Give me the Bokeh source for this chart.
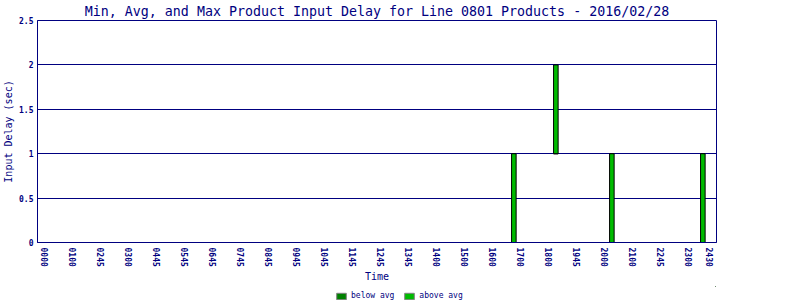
from bokeh.plotting import figure
from bokeh.layouts import column
from bokeh.models import FixedTicker, Range1d, Legend, LegendItem, ColumnDataSource
from bokeh.embed import file_html
from bokeh.resources import INLINE

# ---- data ----
tick_idx = [0, 4, 8, 12, 16, 20, 24, 28, 32, 36, 40, 44, 48, 52, 56, 60,
            64, 68, 72, 76, 80, 84, 88, 92, 95]
tick_labels = ["0000", "0100", "0245", "0300", "0445", "0545", "0645", "0745",
               "0845", "0945", "1045", "1145", "1245", "1345", "1400", "1500",
               "1600", "1700", "1800", "1945", "2000", "2100", "2245", "2300", "2430"]
bar_idx = [67, 73, 81, 94]
min_delay = [0, 1, 0, 0]
avg_delay = [0, 1, 0, 0]
max_delay = [1, 2, 1, 1]
y_ticks = [0, 0.5, 1, 1.5, 2, 2.5]
y_tick_labels = ["0", "0.5", "1", "1.5", "2", "2.5"]
series_names = ["below avg", "above avg"]

NAVY = "#000080"
MONO = "DejaVu Sans Mono"
BELOW = "#008000"
ABOVE = "#00bb00"

src = ColumnDataSource(dict(x=bar_idx, mn=min_delay, av=avg_delay, mx=max_delay))

p = figure(frame_width=679, frame_height=222, output_backend="svg", toolbar_location=None,
           x_range=Range1d(-1.05, 95.95), y_range=Range1d(0, 2.5),
           min_border_left=36, min_border_right=85, min_border_top=20, min_border_bottom=44)

p.title.text = "Min, Avg, and Max Product Input Delay for Line 0801 Products - 2016/02/28"
p.title.align = "center"
p.title.vertical_align = "top"
p.title.text_font = MONO
p.title.text_font_size = "13.3px"
p.title.text_font_style = "normal"
p.title.text_color = NAVY
p.title.standoff = 0

p.vbar(x="x", bottom="mn", top="av", width=0.65, source=src,
       fill_color=BELOW, line_color="black", line_width=1)
p.vbar(x="x", bottom="av", top="mx", width=0.65, source=src,
       fill_color=ABOVE, line_color="black", line_width=1)

p.outline_line_color = NAVY
p.outline_line_width = 1
p.background_fill_color = "white"
p.border_fill_color = "white"

p.xgrid.visible = False
p.ygrid.grid_line_color = NAVY
p.ygrid.grid_line_width = 1
p.ygrid.ticker = FixedTicker(ticks=y_ticks)

p.yaxis.ticker = FixedTicker(ticks=y_ticks)
p.yaxis.major_label_overrides = {t: l for t, l in zip(y_ticks, y_tick_labels)}
p.xaxis.ticker = FixedTicker(ticks=tick_idx)
p.xaxis.major_label_overrides = {t: l for t, l in zip(tick_idx, tick_labels)}
p.xaxis.major_label_orientation = "vertical"

for ax in (p.xaxis[0], p.yaxis[0]):
    ax.axis_line_color = NAVY
    ax.major_tick_line_color = None
    ax.minor_tick_line_color = None
    ax.major_tick_out = 0
    ax.major_tick_in = 0
    ax.major_label_text_font = MONO
    ax.major_label_text_font_size = "8px"
    ax.major_label_text_font_style = "bold"
    ax.major_label_text_color = NAVY
    ax.axis_label_text_font = MONO
    ax.axis_label_text_font_size = "10px"
    ax.axis_label_text_font_style = "normal"
    ax.axis_label_text_color = NAVY

p.xaxis.axis_label = "Time"
p.yaxis.axis_label = "Input Delay (sec)"
p.xaxis.major_label_standoff = 5
p.yaxis.major_label_standoff = 4
p.xaxis.axis_label_standoff = 1
p.yaxis.axis_label_standoff = 2

# ---- legend strip below the chart ----
# its swatch renderers reuse the series data; the strip's own ranges keep them out of view
lg = figure(width=800, height=14, output_backend="svg", toolbar_location=None,
            x_range=Range1d(-3, -2), y_range=Range1d(-3, -2),
            x_axis_type=None, y_axis_type=None,
            min_border_left=0, min_border_right=0, min_border_top=0, min_border_bottom=0)
lg.outline_line_color = None
lg.grid.visible = False
lg.background_fill_color = "white"
lg.border_fill_color = "white"
sw_below = lg.vbar(x="x", bottom="mn", top="av", width=0.65, source=src,
                   fill_color=BELOW, line_color="#808080")
sw_above = lg.vbar(x="x", bottom="av", top="mx", width=0.65, source=src,
                   fill_color=ABOVE, line_color="#808080")
legend = Legend(items=[LegendItem(label=series_names[0], renderers=[sw_below]),
                       LegendItem(label=series_names[1], renderers=[sw_above])],
                orientation="horizontal", location=(298, 0),
                label_text_font=MONO, label_text_font_size="8px",
                label_text_color=NAVY, glyph_width=12, glyph_height=8,
                label_standoff=4, spacing=9, padding=0, margin=0,
                border_line_color=None, background_fill_alpha=0,
                label_height=8)
lg.add_layout(legend, "center")

open("out.html", "w").write(file_html(column(p, lg, spacing=0), INLINE))
